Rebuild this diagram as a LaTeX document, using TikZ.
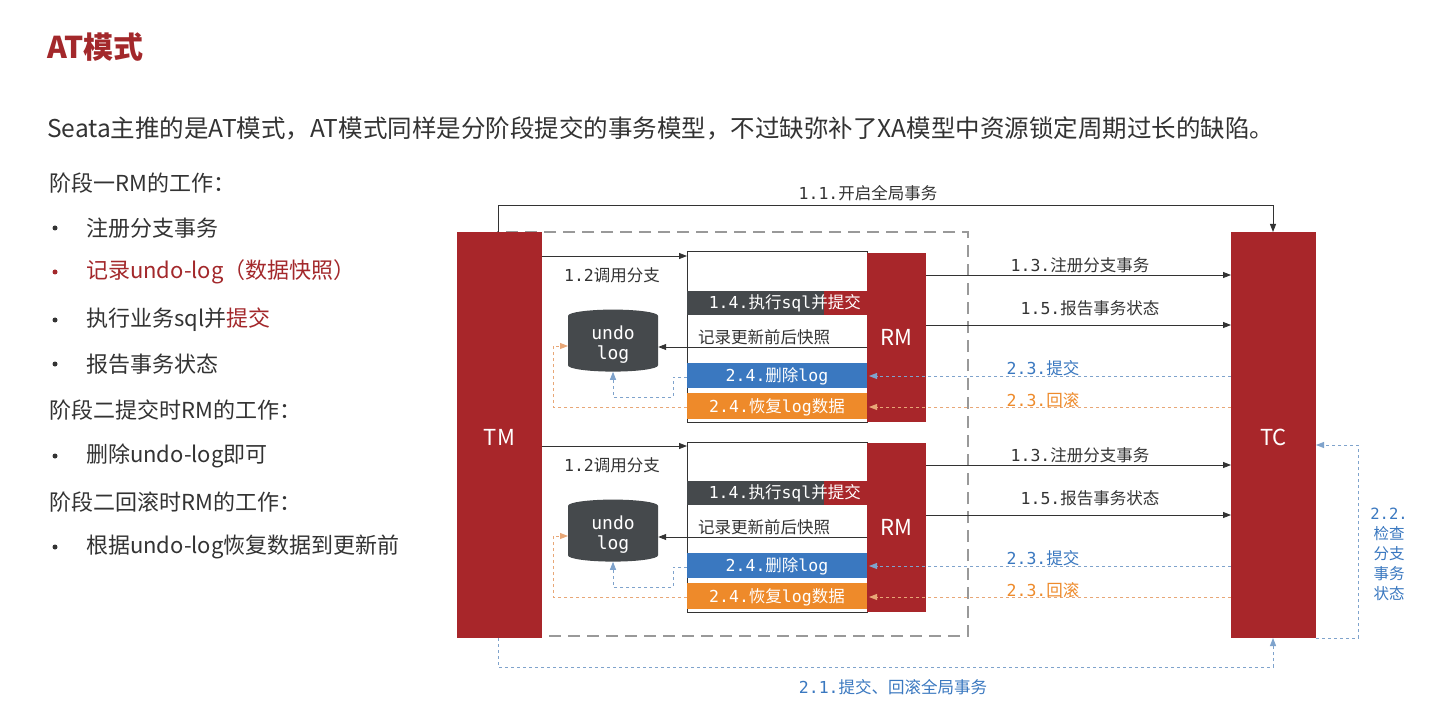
\documentclass[tikz,border=0pt]{standalone}
\usepackage{fontspec}
\setmainfont{Noto Sans CJK SC}
\newfontfamily\monof{DejaVu Sans Mono}
\newcommand\mm[1]{{\monof #1}}
\usetikzlibrary{shapes.geometric,arrows.meta}
\definecolor{dred}{HTML}{A8262A}
\definecolor{tred}{HTML}{A3282B}
\definecolor{dgray}{HTML}{45494C}
\definecolor{bblue}{HTML}{3A78C0}
\definecolor{oorange}{HTML}{EE8A2A}
\definecolor{lblue}{HTML}{7FA3CC}
\definecolor{lorange}{HTML}{E8A777}
\definecolor{txt}{HTML}{333333}
\tikzset{
 redbox/.style={fill=dred,draw=none},
 big/.style={font=\fontsize{22}{24}\selectfont,text=txt,anchor=west,inner sep=0},
 lab/.style={font=\fontsize{16.5}{17}\selectfont,text=txt,inner sep=0},
 arr/.style={-{Triangle[length=8pt,width=6pt]},draw=black!80,line width=0.8pt},
 barlab/.style={font=\fontsize{16.5}{17}\selectfont,text=white,inner sep=0},
 bluedash/.style={draw=lblue,dashed,line width=0.9pt,-{Triangle[length=8pt,width=6pt]}},
 ordash/.style={draw=lorange,dashed,line width=0.9pt,-{Triangle[length=8pt,width=6pt]}},
}
\begin{document}
\begin{tikzpicture}[x=1pt,y=-1pt]
\useasboundingbox (0,0) rectangle (1439,708);
\fill[white] (0,0) rectangle (1439,708);
\node[anchor=west,inner sep=0,text=tred,font=\fontsize{30}{32}\selectfont\bfseries] (title) at (47,47) {AT模式};
\node[big,font=\fontsize{24.5}{26}\selectfont] (intro) at (47,128) {Seata主推的是AT模式，AT模式同样是分阶段提交的事务模型，不过缺弥补了XA模型中资源锁定周期过长的缺陷。};
\node[big] (p1) at (49,183) {阶段一RM的工作：};
\foreach \yy/\t/\n in {228/注册分支事务/b1,320/执行业务sql并\textcolor{tred}{提交}/b3,364/报告事务状态/b4,456/删除undo-log即可/b5,547/根据undo-log恢复数据到更新前/b6}{
 \node[big] (\n) at (86,\yy) {\t};
 \node[circle,fill=txt,inner sep=0,minimum size=5pt] (d\n) at (55,\yy) {};
}
\node[big,text=tred] (b2) at (86,272) {记录undo-log（数据快照）};
\node[circle,fill=tred,inner sep=0,minimum size=5pt] (db2) at (55,272) {};
\node[big] (p2) at (49,410) {阶段二提交时RM的工作：};
\node[big] (p3) at (49,502) {阶段二回滚时RM的工作：};

\draw[draw=black!40,dash pattern=on 12pt off 7pt,line width=2pt] (497,232) rectangle (968,636);
\fill[redbox] (457,232) rectangle (542,638);
\node[text=white,font=\fontsize{22}{24}\selectfont] (TM) at (499.5,437) {TM};
\fill[redbox] (1231,232) rectangle (1316,638);
\node[text=white,font=\fontsize{22}{24}\selectfont] (TC) at (1273.5,437) {TC};
\coordinate (tmt) at (498,232); \coordinate (tct) at (1273,232);
\coordinate (tmb) at (498,638); \coordinate (tcb) at (1273,638);

\draw[arr] (tmt) -- (498,205) -- (1273,205) -- (tct);
\node[lab] (l11) at (868,193) {\mm{1.1.}开启全局事务};
\draw[bluedash] (tmb) -- (498,667) -- (1273,667) -- (tcb);
\node[lab,text=bblue] (l21) at (893,687) {\mm{2.1.}提交、回滚全局事务};
\coordinate (tcr1) at (1316,638); \coordinate (tcr2) at (1316,445);
\draw[bluedash] (tcr1) -- (1358,638) -- (1358,445) -- (tcr2);
\node[lab,text=bblue,align=center,font=\fontsize{15.5}{20}\selectfont] (l22) at (1389,554) {\mm{2.2.}\\检查\\分支\\事务\\状态};

\foreach \o/\k in {0/a,190/b}{
\begin{scope}[yshift=-\o pt]
 \draw[black!80,line width=1pt,fill=white] (687,252) rectangle (867,422);
 \fill[redbox] (867,253) rectangle (926,422);
 \node[text=white,font=\fontsize{22}{24}\selectfont] (RM\k) at (896.5,337) {RM};
 \coordinate (tm\k) at (542,256); \coordinate (fr\k) at (687,256);
 \draw[arr] (tm\k) -- (fr\k);
 \node[lab] (l12\k) at (612,275) {\mm{1.2}调用分支};
 \fill[dgray] (687,291) rectangle (867,315);
 \fill[dred] (824,291) rectangle (867,315);
 \node[barlab,anchor=east] (sql\k) at (861,303) {\mm{1.4.}执行\mm{sql}并提交};
 \node[cylinder,shape border rotate=90,aspect=0.25,fill=dgray,draw=none,minimum width=90pt,minimum height=62pt,text=white,align=center,font=\fontsize{18}{20}\selectfont\monof] (db\k) at (613,345) {undo\\log};
 \node[lab] (l13\k) at (764,337) {记录更新前后快照};
 \draw[arr] (867,347) -- (db\k.east |- 0,347);
 \fill[bblue] (687,363) rectangle (867,388);
 \node[barlab] (del\k) at (777,376) {\mm{2.4.}删除\mm{log}};
 \fill[oorange] (687,393) rectangle (867,419);
 \node[barlab] (rec\k) at (777,407) {\mm{2.4.}恢复\mm{log}数据};
 \draw[bluedash] (687,377) -- (673,377) -- (673,397) -- (613,397) -- (db\k.south);
 \draw[ordash] (687,407) -- (553,407) -- (553,346) -- (568,346);
 \draw[arr] (926,275) -- (1231,275);
 \node[lab] (l13r\k) at (1080,265) {\mm{1.3.}注册分支事务};
 \draw[arr] (926,325) -- (1231,325);
 \node[lab] (l15\k) at (1090,308) {\mm{1.5.}报告事务状态};
 \draw[bluedash] (1231,376) -- (869,376);
 \node[lab,text=bblue] (l23a\k) at (1043,368) {\mm{2.3.}提交};
 \draw[ordash] (1231,407) -- (869,407);
 \node[lab,text=oorange] (l23b\k) at (1043,400) {\mm{2.3.}回滚};
\end{scope}}
\end{tikzpicture}
\end{document}
